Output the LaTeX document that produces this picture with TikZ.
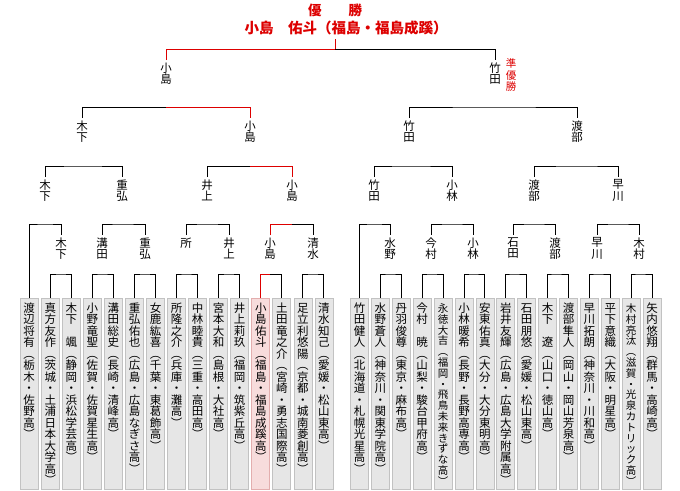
\documentclass[tikz,border=0pt]{standalone}
\usepackage{fontspec}
\setmainfont{Noto Sans CJK JP}
\usetikzlibrary{positioning}
\definecolor{winred}{HTML}{DD0000}
\definecolor{boxfill}{HTML}{E6E6E6}
\definecolor{boxedge}{HTML}{C2C2C2}
\definecolor{winfill}{HTML}{F7DCDC}
\definecolor{winedge}{HTML}{E3AEAE}

% vertical text: one character per line
\ExplSyntaxOn
\NewDocumentCommand \tate { O{11.5pt} m }
  {
    \vtop
      {
        \baselineskip = #1 \relax
        \lineskiplimit = -\maxdimen
        \tl_map_inline:nn {#2} { \hbox_to_wd:nn { 12pt } { \hss ##1 \hss } }
      }
  }
\ExplSyntaxOff

\begin{document}
\begin{tikzpicture}[x=1pt, y=-1pt, line width=1pt,
    player/.style={draw=boxedge, fill=boxfill, line width=0.8pt, anchor=north, minimum width=18pt,
      inner sep=0pt, text height=14pt, text depth=177pt, font=\fontsize{11.5}{11.5}\selectfont},
    champbox/.style={player, draw=winedge, fill=winfill},
    kname/.style={anchor=north, inner xsep=0pt, inner ysep=2pt, font=\fontsize{11.5}{11.5}\selectfont},
    win/.style={draw=winred}]
  \fill[white] (0,0) rectangle (680,490);
  \useasboundingbox (0,0) rectangle (680,490);

  % title
  \node[font=\bfseries\fontsize{13.5}{13.5}\selectfont, text=winred] (yusho) at (335,10) {優　　勝};
  \node[font=\bfseries\fontsize{14.5}{14.5}\selectfont, text=winred, anchor=south, inner ysep=3pt] (champ) at (346,39)
    {小島　佑斗（福島・福島成蹊）};
  \node[kname, text=winred, font=\fontsize{10.5}{10.5}\selectfont] (runnerup) at (511,56) {\tate[11.7pt]{準優勝}};

  % final
  \node[kname] (f1) at (166,60) {\tate{小島}};
  \node[kname] (f2) at (495,60) {\tate{竹田}};

  % semi finals
  \node[kname] (b1) at (82,118) {\tate{木下}};
  \node[kname] (b2) at (250,118) {\tate{小島}};
  \node[kname] (b3) at (409,118) {\tate{竹田}};
  \node[kname] (b4) at (577,118) {\tate{渡部}};

  % quarter finals
  \node[kname] (c1) at (45,177) {\tate{木下}};
  \node[kname] (c2) at (122,177) {\tate{重弘}};
  \node[kname] (c3) at (207,177) {\tate{井上}};
  \node[kname] (c4) at (292,177) {\tate{小島}};
  \node[kname] (c5) at (374,177) {\tate{竹田}};
  \node[kname] (c6) at (452,177) {\tate{小林}};
  \node[kname] (c7) at (534,177) {\tate{渡部}};
  \node[kname] (c8) at (618,177) {\tate{早川}};

  % first round winners
  \node[kname] (d1) at (61,235) {\tate{木下}};
  \node[kname] (d2) at (102,235) {\tate{溝田}};
  \node[kname] (d3) at (145,235) {\tate{重弘}};
  \node[kname] (d4) at (186,235) {\tate{所}};
  \node[kname] (d5) at (229,235) {\tate{井上}};
  \node[kname] (d6) at (270,235) {\tate{小島}};
  \node[kname] (d7) at (313,235) {\tate{清水}};
  \node[kname] (d8) at (390,235) {\tate{水野}};
  \node[kname] (d9) at (431,235) {\tate{今村}};
  \node[kname] (d10) at (473,235) {\tate{小林}};
  \node[kname] (d11) at (513,235) {\tate{石田}};
  \node[kname] (d12) at (555,235) {\tate{渡部}};
  \node[kname] (d13) at (597,235) {\tate{早川}};
  \node[kname] (d14) at (639,235) {\tate{木村}};

  % players
  \node[player] (p1) at (29.2,298) {\tate{渡辺将有︵栃木・佐野高︶}};
  \node[player] (p2) at (50.3,298) {\tate{真方友作︵茨城・土浦日本大学高︶}};
  \node[player] (p3) at (71.3,298) {\tate{木下　颯︵静岡・浜松学芸高︶}};
  \node[player] (p4) at (92.4,298) {\tate{小野竜聖︵佐賀・佐賀星生高︶}};
  \node[player] (p5) at (113.4,298) {\tate{溝田総史︵長崎・清峰高︶}};
  \node[player] (p6) at (134.5,298) {\tate{重弘佑也︵広島・広島なぎさ高︶}};
  \node[player] (p7) at (155.5,298) {\tate{女鹿紘喜︵千葉・東葛飾高︶}};
  \node[player] (p8) at (176.6,298) {\tate{所隆之介︵兵庫・灘高︶}};
  \node[player] (p9) at (197.6,298) {\tate{中林睦貴︵三重・高田高︶}};
  \node[player] (p10) at (218.7,298) {\tate{宮本大和︵島根・大社高︶}};
  \node[player] (p11) at (239.7,298) {\tate{井上莉玖︵福岡・筑紫丘高︶}};
  \node[champbox] (p12) at (260.8,298) {\tate{小島佑斗︵福島・福島成蹊高︶}};
  \node[player] (p13) at (281.8,298) {\tate{土田竜之介︵宮崎・勇志国際高︶}};
  \node[player] (p14) at (302.9,298) {\tate{足立利悠陽︵京都・城南菱創高︶}};
  \node[player] (p15) at (323.9,298) {\tate{清水知己︵愛媛・松山東高︶}};
  \node[player] (p16) at (359.5,298) {\tate{竹田健人︵北海道・札幌光星高︶}};
  \node[player] (p17) at (380.4,298) {\tate{水野蒼人︵神奈川・関東学院高︶}};
  \node[player] (p18) at (401.3,298) {\tate{丹羽俊尊︵東京・麻布高︶}};
  \node[player] (p19) at (422.2,298) {\tate{今村　暁︵山梨・駿台甲府高︶}};
  \node[player, font=\fontsize{10.5}{10.5}\selectfont] (p20) at (443.1,298) {\tate[10.8pt]{永徳大吉︵福岡・飛鳥未来きずな高︶}};
  \node[player] (p21) at (464.0,298) {\tate{小林暖希︵長野・長野高専高︶}};
  \node[player] (p22) at (484.9,298) {\tate{安東佑真︵大分・大分東明高︶}};
  \node[player] (p23) at (505.8,298) {\tate{岩井友輝︵広島・広島大学附属高︶}};
  \node[player] (p24) at (526.7,298) {\tate{石田朋悠︵愛媛・松山東高︶}};
  \node[player] (p25) at (547.6,298) {\tate{木下　遼︵山口・徳山高︶}};
  \node[player] (p26) at (568.5,298) {\tate{渡部隼人︵岡山・岡山芳泉高︶}};
  \node[player] (p27) at (589.4,298) {\tate{早川拓朗︵神奈川・川和高︶}};
  \node[player] (p28) at (610.3,298) {\tate{平下意織︵大阪・明星高︶}};
  \node[player, font=\fontsize{10.5}{10.5}\selectfont] (p29) at (631.2,298) {\tate[10.8pt]{木村亮汰︵滋賀・光泉カトリック高︶}};
  \node[player] (p30) at (652.1,298) {\tate{矢内悠翔︵群馬・高崎高︶}};

  % final
  \draw[win] (f1.north) |- (yusho |- 0,49) -- (yusho |- champ.south);
  \draw (yusho |- 0,49) -| (f2.north);
  % semi finals
  \draw (b1.north) |- (f1 |- 0,107);
  \draw[win] (f1 |- 0,107) -| (b2.north);
  \draw (b3.north) |- (f2 |- 0,107) -| (b4.north);
  % quarter finals
  \draw (c1.north) |- (b1 |- 0,166) -| (c2.north);
  \draw (c3.north) |- (b2 |- 0,166);
  \draw[win] (b2 |- 0,166) -| (c4.north);
  \draw (c5.north) |- (b3 |- 0,166) -| (c6.north);
  \draw (c7.north) |- (b4 |- 0,166) -| (c8.north);
  % second round
  \draw (p1.north) |- (c1 |- 0,224) -| (d1.north);
  \draw (d2.north) |- (c2 |- 0,224) -| (d3.north);
  \draw (d4.north) |- (c3 |- 0,224) -| (d5.north);
  \draw[win] (d6.north) |- (c4 |- 0,224);
  \draw (c4 |- 0,224) -| (d7.north);
  \draw (p16.north) |- (c5 |- 0,224) -| (d8.north);
  \draw (d9.north) |- (c6 |- 0,224) -| (d10.north);
  \draw (d11.north) |- (c7 |- 0,224) -| (d12.north);
  \draw (d13.north) |- (c8 |- 0,224) -| (d14.north);
  % first round
  \draw (p2.north) |- (d1 |- 0,274) -| (p3.north);
  \draw (p4.north) |- (d2 |- 0,274) -| (p5.north);
  \draw (p6.north) |- (d3 |- 0,274) -| (p7.north);
  \draw (p8.north) |- (d4 |- 0,274) -| (p9.north);
  \draw (p10.north) |- (d5 |- 0,274) -| (p11.north);
  \draw[win] (p12.north) |- (d6 |- 0,274);
  \draw (d6 |- 0,274) -| (p13.north);
  \draw (p14.north) |- (d7 |- 0,274) -| (p15.north);
  \draw (p17.north) |- (d8 |- 0,274) -| (p18.north);
  \draw (p19.north) |- (d9 |- 0,274) -| (p20.north);
  \draw (p21.north) |- (d10 |- 0,274) -| (p22.north);
  \draw (p23.north) |- (d11 |- 0,274) -| (p24.north);
  \draw (p25.north) |- (d12 |- 0,274) -| (p26.north);
  \draw (p27.north) |- (d13 |- 0,274) -| (p28.north);
  \draw (p29.north) |- (d14 |- 0,274) -| (p30.north);
\end{tikzpicture}
\end{document}
